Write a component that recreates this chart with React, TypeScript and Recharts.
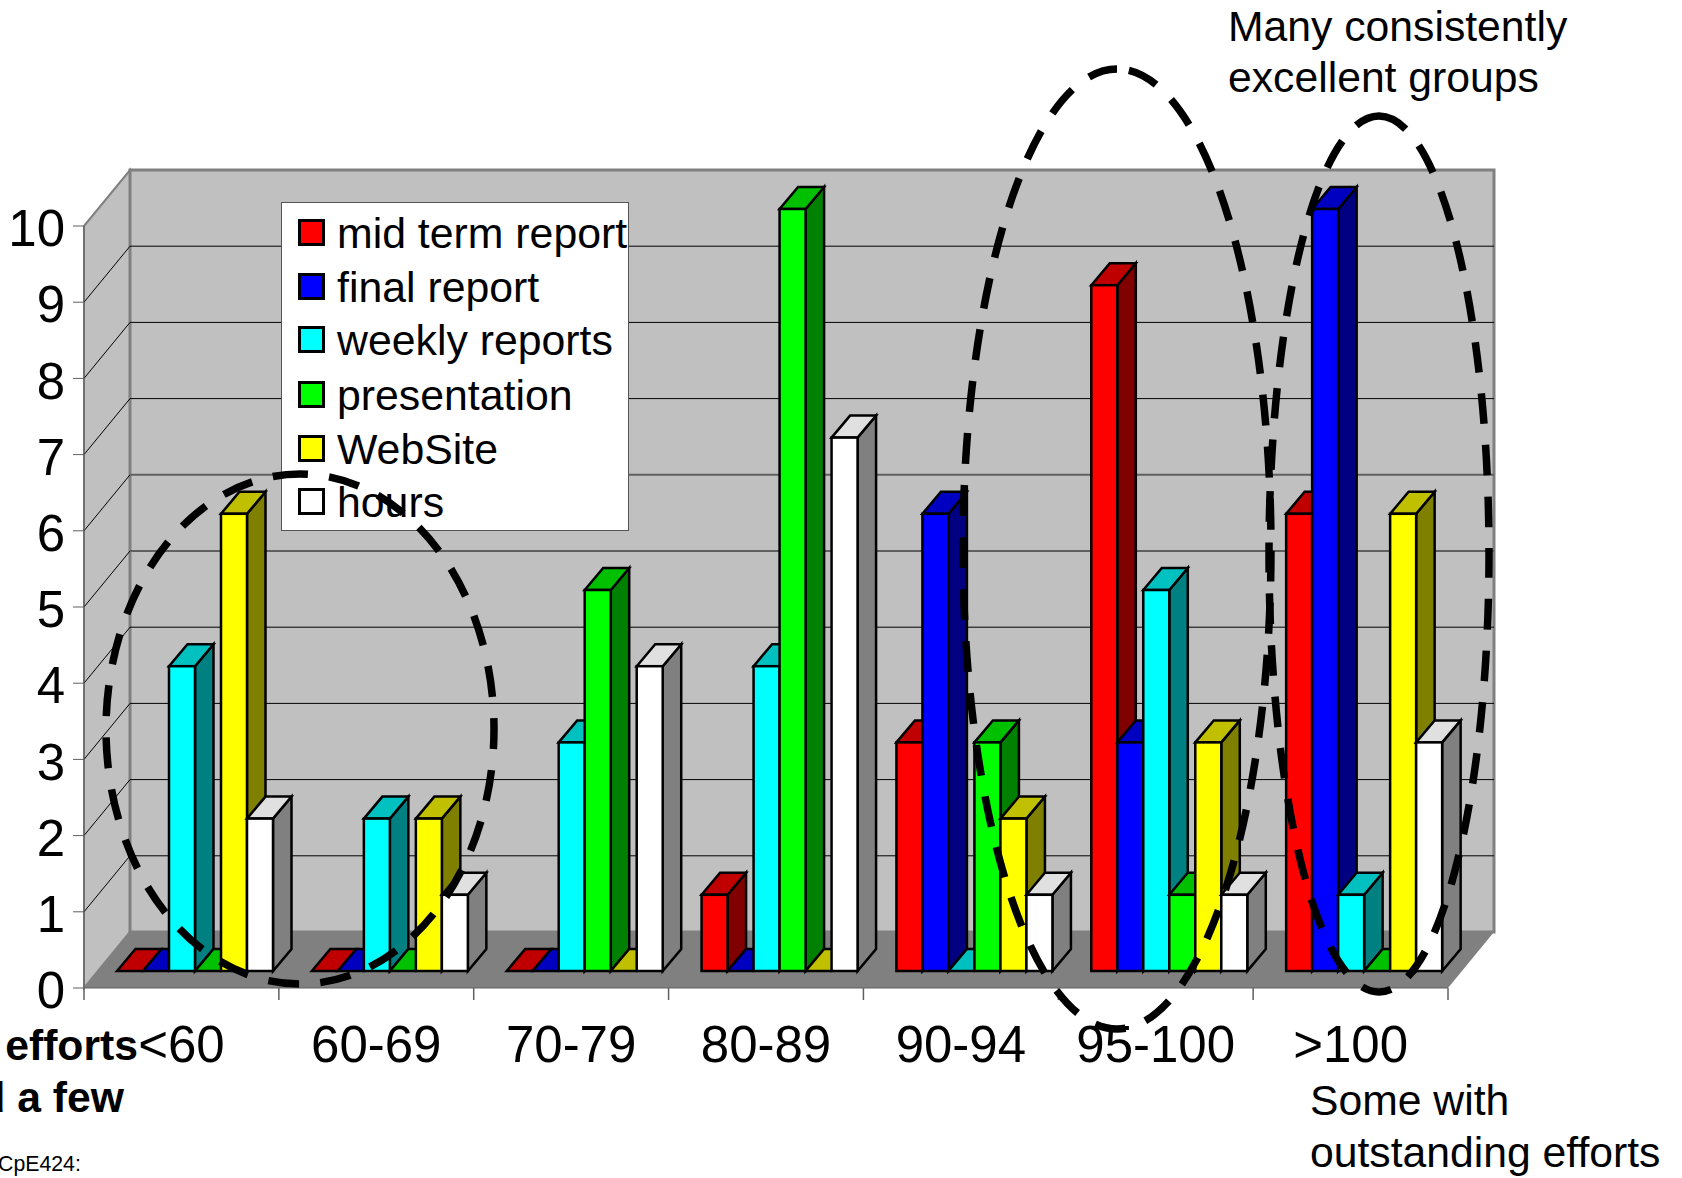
import React from 'react';
import { BarChart, Bar, XAxis, YAxis, Legend } from 'recharts';

const categories = ['<60', '60-69', '70-79', '80-89', '90-94', '95-100', '>100'];
const midTerm = [0, 0, 0, 1, 3, 9, 6];
const finalReport = [0, 0, 0, 0, 6, 3, 10];
const weekly = [4, 2, 3, 4, 0, 5, 1];
const presentation = [0, 0, 5, 10, 3, 1, 0];
const webSite = [6, 2, 0, 0, 2, 3, 6];
const hours = [2, 1, 4, 7, 1, 1, 3];
const yTicks = [0, 1, 2, 3, 4, 5, 6, 7, 8, 9, 10];

const seriesDefs = [
  { key: 'mid', name: 'mid term report', values: midTerm, front: '#FF0000', top: '#C00000', side: '#800000' },
  { key: 'final', name: 'final report', values: finalReport, front: '#0000FF', top: '#0000C0', side: '#000080' },
  { key: 'weekly', name: 'weekly reports', values: weekly, front: '#00FFFF', top: '#00C0C0', side: '#008080' },
  { key: 'pres', name: 'presentation', values: presentation, front: '#00FF00', top: '#00C000', side: '#008000' },
  { key: 'web', name: 'WebSite', values: webSite, front: '#FFFF00', top: '#C0C000', side: '#808000' },
  { key: 'hours', name: 'hours', values: hours, front: '#FFFFFF', top: '#E0E0E0', side: '#808080' },
];

const tableData = categories.map((c, i) => {
  const row: Record<string, any> = { category: c };
  seriesDefs.forEach((s) => { row[s.key] = s.values[i]; });
  return row;
});

const FONT = '"Liberation Sans", Arial, sans-serif';
const PL = 84, PR = 1448, PT = 226, PB = 988;
const UNIT = (PB - PT) / 10;
const WALL_DX = 46, WALL_DY = -56;
const BAR_OX = 14, BAR_OY = -17, BAR_DX = 18.5, BAR_DY = -22;
const legendRows = [0, 54, 107, 162, 216, 269];

function Box3D(props: any) {
  const { x, y, width, height, fill, topFill, sideFill } = props;
  const X = x + BAR_OX, Y = y + BAR_OY, W = width, H = height;
  const topPts = `${X},${Y} ${X + BAR_DX},${Y + BAR_DY} ${X + W + BAR_DX},${Y + BAR_DY} ${X + W},${Y}`;
  const sidePts = `${X + W},${Y} ${X + W + BAR_DX},${Y + BAR_DY} ${X + W + BAR_DX},${Y + H + BAR_DY} ${X + W},${Y + H}`;
  return (
    <g stroke="#000" strokeWidth={2.5} strokeLinejoin="miter">
      {H > 0.5 && <polygon points={sidePts} fill={sideFill} />}
      <polygon points={topPts} fill={topFill} />
      {H > 0.5 && <rect x={X} y={Y} width={W} height={H} fill={fill} />}
    </g>
  );
}

function LegendBox(props: any) {
  const items = props.payload || [];
  return (
    <div style={{ position: 'relative', width: 348, height: 329, boxSizing: 'border-box', background: '#fff', border: '1px solid #555' }}>
      {items.map((it: any, i: number) => (
        <div key={it.value}>
          <div style={{ position: 'absolute', left: 16, top: 16 + legendRows[i], width: 27, height: 27, boxSizing: 'border-box', background: it.color, border: '3px solid #000' }} />
          <div style={{ position: 'absolute', left: 55, top: 5 + legendRows[i], fontFamily: FONT, fontSize: 42.8, lineHeight: '50px', whiteSpace: 'nowrap', color: '#000' }}>{it.value}</div>
        </div>
      ))}
    </div>
  );
}

const Walls = () => (
  <g>
    <polygon points={`${PL},${PT} ${PL + WALL_DX},${PT + WALL_DY} ${PL + WALL_DX},${PB + WALL_DY} ${PL},${PB}`} fill="#C0C0C0" stroke="#808080" strokeWidth={2} />
    <rect x={PL + WALL_DX} y={PT + WALL_DY} width={PR - PL} height={PB - PT} fill="#C0C0C0" stroke="#808080" strokeWidth={3} />
    <polygon points={`${PL},${PB} ${PL + WALL_DX},${PB + WALL_DY} ${PR + WALL_DX},${PB + WALL_DY} ${PR},${PB}`} fill="#808080" />
    {yTicks.slice(1, 10).map((t) => {
      const y = PB - t * UNIT;
      const heavy = t === 5 || t === 6;
      return (
        <g key={t}>
          <line x1={PL} y1={y} x2={PL + WALL_DX} y2={y + WALL_DY} stroke="#000" strokeWidth={1} />
          <line x1={PL + WALL_DX} y1={y + WALL_DY} x2={PR + WALL_DX} y2={y + WALL_DY} stroke={heavy ? '#606060' : '#000'} strokeWidth={heavy ? 2 : 1} />
        </g>
      );
    })}
    {categories.concat('').map((_, i) => {
      const x = PL + (i * (PR - PL)) / categories.length;
      return <line key={i} x1={x} y1={PB} x2={x} y2={PB + 12} stroke="#606060" strokeWidth={1.5} />;
    })}
  </g>
);

const dashBase = { fill: 'none', stroke: '#000', strokeWidth: 7.5 };
const ellipsePath = (cx: number, cy: number, rx: number, ry: number) =>
  `M ${cx} ${cy - ry} A ${rx} ${ry} 0 1 1 ${cx} ${cy + ry} A ${rx} ${ry} 0 1 1 ${cx} ${cy - ry}`;

export default function App() {
  return (
    <div style={{ position: 'fixed', left: 0, top: 0, width: 1682, height: 1178, overflow: 'hidden', background: '#fff', fontFamily: FONT }}>
      <BarChart
        width={1682}
        height={1178}
        data={tableData}
        margin={{ top: PT, right: 1682 - PR, bottom: 1178 - PB - 100, left: 0 }}
        barGap={0}
        barSize={26}
        style={{ position: 'absolute', left: 0, top: 0 }}
      >
        <Walls />
        <XAxis
          dataKey="category"
          interval={0}
          height={100}
          tickSize={12}
          tickMargin={26}
          tickLine={false}
          tick={{ fontSize: 51, fill: '#000', fontFamily: FONT }}
          stroke="#606060"
        />
        <YAxis
          width={PL}
          domain={[0, 10]}
          ticks={yTicks}
          interval={0}
          tickSize={11}
          tickMargin={8}
          tick={{ fontSize: 51, fill: '#000', fontFamily: FONT, dy: 2 }}
          stroke="#606060"
        />
        <Legend
          layout="vertical"
          align="center"
          verticalAlign="middle"
          itemSorter={null}
          content={(p: any) => <LegendBox {...p} />}
          wrapperStyle={{ position: 'absolute', left: 281, top: 202, width: 348, height: 329, margin: 0 }}
        />
        {seriesDefs.map((s) => (
          <Bar
            key={s.key}
            dataKey={s.key}
            name={s.name}
            fill={s.front}
            isAnimationActive={false}
            shape={(p: any) => <Box3D {...p} fill={s.front} topFill={s.top} sideFill={s.side} />}
          />
        ))}
      </BarChart>
      <svg width={1682} height={1178} style={{ position: 'absolute', left: 0, top: 0, pointerEvents: 'none', zIndex: 5 }}>
        <path d={ellipsePath(300, 729, 194, 255)} {...dashBase} strokeDasharray="31 21.3" strokeDashoffset={23} />
        <path d={ellipsePath(1117, 549, 154, 480)} {...dashBase} strokeDasharray="31 21.1" strokeDashoffset={40.1} />
        <path d={ellipsePath(1379, 554, 110, 438)} {...dashBase} strokeDasharray="30.5 21" />
        <g fontFamily={FONT} fill="#000">
          <text x={1228} y={41} fontSize={42.7}>Many consistently</text>
          <text x={1228} y={92} fontSize={42.7}>excellent groups</text>
          <text x={1310} y={1115} fontSize={42.7}>Some with</text>
          <text x={1310} y={1167} fontSize={42.7}>outstanding efforts</text>
          <text x={138} y={1060} fontSize={42.7} fontWeight="bold" textAnchor="end">efforts</text>
          <text x={124} y={1112} fontSize={42.7} fontWeight="bold" textAnchor="end">and a few</text>
          <text x={-2} y={1171} fontSize={21.3}>CpE424:</text>
        </g>
      </svg>
    </div>
  );
}
